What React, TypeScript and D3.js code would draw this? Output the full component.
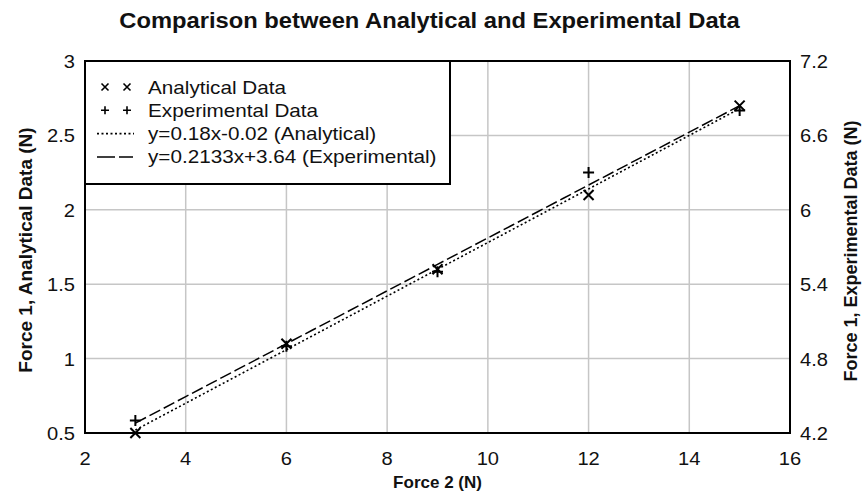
import React from "react";
import * as d3 from "d3";

const xValues = [3, 6, 9, 12, 15];
const analyticalValues = [0.5, 1.1, 1.6, 2.1, 2.7];
const experimentalValues = [4.3, 4.9, 5.5, 6.3, 6.8];
const xTicks = [2, 4, 6, 8, 10, 12, 14, 16];
const leftTicks = [0.5, 1, 1.5, 2, 2.5, 3];
const rightTicks = [4.2, 4.8, 5.4, 6, 6.6, 7.2];
const analyticalFit = [0.18, -0.02];
const experimentalFit = [0.2133, 3.64];
const fitRange = [3, 15];
const legendLabels = [
  "Analytical Data",
  "Experimental Data",
  "y=0.18x-0.02 (Analytical)",
  "y=0.2133x+3.64 (Experimental)",
];
const titleText = "Comparison between Analytical and Experimental Data";
const xTitle = "Force 2 (N)";
const leftTitle = "Force 1, Analytical Data (N)";
const rightTitle = "Force 1, Experimental Data (N)";

const W = 862;
const H = 497;
const L = 85;
const R = 790;
const T = 61;
const B = 433;
const FONT = "'Liberation Sans', Arial, Helvetica, sans-serif";

function SText({ x, y, sx = 1, size, anchor = "start", bold = false, rotate = 0, children }: any) {
  return (
    <text
      transform={`translate(${x},${y}) rotate(${rotate}) scale(${sx},1)`}
      fontSize={size}
      fontFamily={FONT}
      fontWeight={bold ? "bold" : "normal"}
      textAnchor={anchor}
      fill="#111"
    >
      {children}
    </text>
  );
}

function Cross({ x, y, r, sw }: any) {
  return (
    <path d={`M${x - r},${y - r}L${x + r},${y + r}M${x - r},${y + r}L${x + r},${y - r}`} stroke="#000" strokeWidth={sw} fill="none" />
  );
}
function Plus({ x, y, r, sw }: any) {
  return (
    <path d={`M${x - r},${y}L${x + r},${y}M${x},${y - r}L${x},${y + r}`} stroke="#000" strokeWidth={sw} fill="none" />
  );
}

export default function App() {
  const x = d3.scaleLinear().domain([2, 16]).range([L, R]);
  const yL = d3.scaleLinear().domain([0.5, 3]).range([B, T]);
  const yR = d3.scaleLinear().domain([4.2, 7.2]).range([B, T]);

  const fitXs = d3.range(fitRange[0], fitRange[1] + 0.001, 0.5);
  const lineL = d3
    .line<number>()
    .x((d) => x(d))
    .y((d) => yL(analyticalFit[0] * d + analyticalFit[1]));
  const lineR = d3
    .line<number>()
    .x((d) => x(d))
    .y((d) => yR(experimentalFit[0] * d + experimentalFit[1]));

  const tickSize = 19;
  const tickSx = 1.06;
  const legSize = 18;
  const legSx = 1.15;
  const legX0 = L;
  const legY0 = T;
  const legW = 365;
  const legH = 123;
  const rowY = (i: number) => legY0 + 26 + i * 23.3;

  return (
    <svg width={W} height={H} style={{ position: "absolute", left: 0, top: 0, background: "#fff" }}>
      <rect x={0} y={0} width={W} height={H} fill="#fff" />
      <SText x={(L + R) / 2 - 8} y={28} size={22} sx={1.08} anchor="middle" bold>
        {titleText}
      </SText>

      {/* grid */}
      {xTicks.slice(1, -1).map((t) => (
        <line key={"gx" + t} x1={x(t)} x2={x(t)} y1={T} y2={B} stroke="#c6c6c6" strokeWidth={1.5} />
      ))}
      {leftTicks.slice(1, -1).map((t) => (
        <line key={"gy" + t} x1={L} x2={R} y1={yL(t)} y2={yL(t)} stroke="#c6c6c6" strokeWidth={1.5} />
      ))}

      {/* fit lines */}
      <path d={lineL(fitXs) || ""} fill="none" stroke="#000" strokeWidth={1.6} strokeDasharray="2,2.5" />
      <path d={lineR(fitXs) || ""} fill="none" stroke="#000" strokeWidth={1.5} strokeDasharray="12,4" />

      {/* markers */}
      {xValues.map((v, i) => (
        <Cross key={"a" + i} x={x(v)} y={yL(analyticalValues[i])} r={5} sw={2} />
      ))}
      {xValues.map((v, i) => (
        <Plus key={"e" + i} x={x(v)} y={yR(experimentalValues[i])} r={5.5} sw={2} />
      ))}

      {/* frame */}
      <rect x={L} y={T} width={R - L} height={B - T} fill="none" stroke="#000" strokeWidth={2} />

      {/* ticks labels */}
      {xTicks.map((t) => (
        <SText key={"xt" + t} x={x(t)} y={465} size={tickSize} sx={tickSx} anchor="middle">
          {String(t)}
        </SText>
      ))}
      {leftTicks.map((t) => (
        <SText key={"lt" + t} x={L - 10} y={yL(t) + 7} size={tickSize} sx={tickSx} anchor="end">
          {String(t)}
        </SText>
      ))}
      {rightTicks.map((t) => (
        <SText key={"rt" + t} x={R + 10} y={yR(t) + 7} size={tickSize} sx={tickSx} anchor="start">
          {d3.format("")(t)}
        </SText>
      ))}

      {/* axis titles */}
      <SText x={(L + R) / 2} y={488} size={17} anchor="middle" bold>
        {xTitle}
      </SText>
      <SText x={32} y={250} size={19} anchor="middle" bold rotate={-90}>
        {leftTitle}
      </SText>
      <SText x={857} y={251} size={18} anchor="middle" bold rotate={-90}>
        {rightTitle}
      </SText>

      {/* legend */}
      <rect x={legX0} y={legY0} width={legW} height={legH} fill="#fff" stroke="#000" strokeWidth={2} />
      <Cross x={legX0 + 20} y={rowY(0)} r={3.5} sw={1.6} />
      <Cross x={legX0 + 42} y={rowY(0)} r={3.5} sw={1.6} />
      <Plus x={legX0 + 20} y={rowY(1)} r={4} sw={1.6} />
      <Plus x={legX0 + 42} y={rowY(1)} r={4} sw={1.6} />
      <line x1={legX0 + 12} x2={legX0 + 49} y1={rowY(2)} y2={rowY(2)} stroke="#000" strokeWidth={1.6} strokeDasharray="2,2.5" />
      <line x1={legX0 + 12} x2={legX0 + 48} y1={rowY(3)} y2={rowY(3)} stroke="#000" strokeWidth={1.5} strokeDasharray="18,4" />
      {legendLabels.map((lab, i) => (
        <SText key={"lg" + i} x={legX0 + 63} y={rowY(i) + 6.5} size={legSize} sx={legSx}>
          {lab}
        </SText>
      ))}
    </svg>
  );
}
